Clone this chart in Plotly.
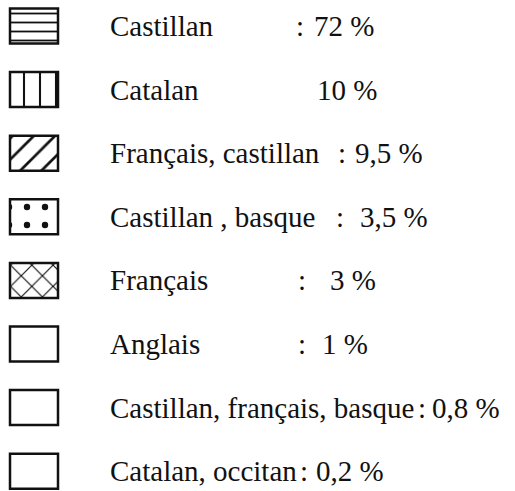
import plotly.graph_objects as go

# --- data ---
languages = [
    "Castillan",
    "Catalan",
    "Français, castillan",
    "Castillan , basque",
    "Français",
    "Anglais",
    "Castillan, français, basque",
    "Catalan, occitan",
]
shares = [72, 10, 9.5, 3.5, 3, 1, 0.8, 0.2]
value_labels = ["72 %", "10 %", "9,5 %", "3,5 %", "3 %", "1 %", "0,8 %", "0,2 %"]

# --- style / layout ---
patterns = ["-", "|", "/", ".", "x", "", "", ""]
pattern_sizes = [9, 16, 15, 18, 15, 10, 10, 10]
pattern_solidity = [0.2, 0.13, 0.18, 0.1, 0.15, 0.2, 0.2, 0.2]
colon_x = [300, None, 342, 340, 302, 302, 422, 304]
value_x = [312, 315, 353, 358, 328, 320, 430, 314]

W, H = 515, 491
row0, pitch = 26, 63.6
font = dict(family="Liberation Serif", size=29, color="#111111")

rows = list(range(len(languages)))

fig = go.Figure()
for i in rows:
    fig.add_trace(go.Bar(
        orientation="h",
        y=[i], x=[48], base=[10], width=0.55,
        marker=dict(
            color="white",
            line=dict(color="#111111", width=2.5),
            pattern=dict(shape=patterns[i], size=pattern_sizes[i],
                         solidity=pattern_solidity[i], fgcolor="#111111",
                         fgopacity=1, bgcolor="white", fillmode="replace"),
        ),
        hovertext=f"{languages[i]} : {shares[i]} %",
        showlegend=False,
    ))

ann = []
for i in rows:
    ann.append(dict(x=108, y=i, xref="x", yref="y", text=languages[i],
                    xanchor="left", yanchor="middle", showarrow=False, font=font))
    if colon_x[i] is not None:
        ann.append(dict(x=colon_x[i], y=i, xref="x", yref="y", text=":",
                        xanchor="center", yanchor="middle", showarrow=False, font=font))
    ann.append(dict(x=value_x[i], y=i, xref="x", yref="y", text=value_labels[i],
                    xanchor="left", yanchor="middle", showarrow=False, font=font))

fig.update_layout(
    width=W, height=H,
    margin=dict(l=0, r=0, t=0, b=0),
    paper_bgcolor="white", plot_bgcolor="white",
    xaxis=dict(range=[0, W], visible=False, fixedrange=True),
    yaxis=dict(range=[(H - row0) / pitch, -row0 / pitch], visible=False, fixedrange=True),
    annotations=ann,
    barmode="overlay",
)

fig.write_html("out.html", config={"displayModeBar": False},
               post_script="document.body.style.margin='0';")
